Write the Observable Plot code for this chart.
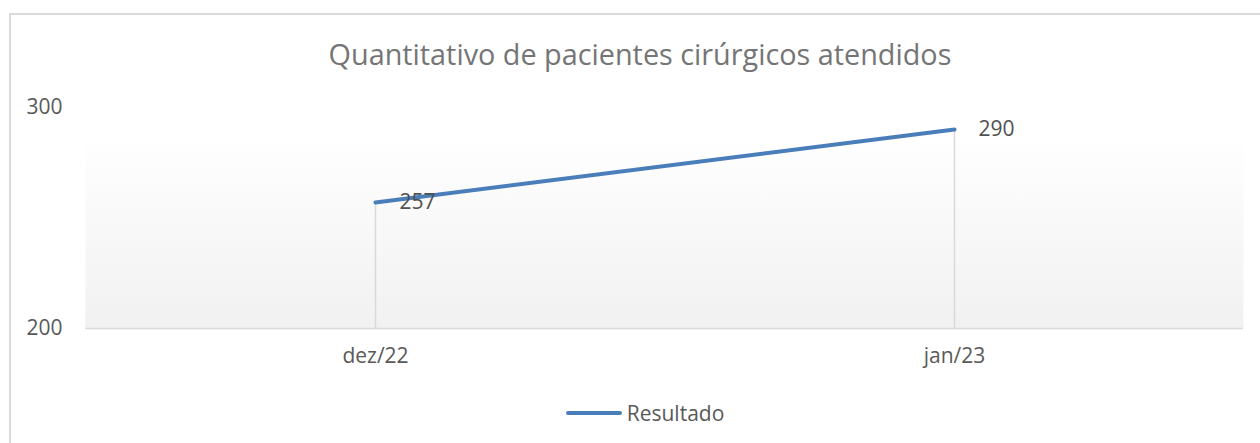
<!DOCTYPE html>
<html>
<head>
<meta charset="utf-8">
<script src="https://cdn.jsdelivr.net/npm/d3@7"></script>
<script src="https://cdn.jsdelivr.net/npm/@observablehq/plot@0.6"></script>
<style>
  html, body { margin: 0; padding: 0; background: #fff; }
  body { width: 1260px; height: 443px; position: relative; overflow: hidden; font-family: "Open Sans", sans-serif; }
  #border { position: absolute; left: 9px; top: 13px; width: 1400px; height: 600px; border-left: 2px solid #d9d9d9; border-top: 2px solid #d9d9d9; box-sizing: border-box; }
  #title { position: absolute; left: 0; top: 36px; width: 1260px; padding-left: 20px; box-sizing: border-box; text-align: center; font-size: 28.8px; line-height: 36px; color: #757575; }
  #chart { position: absolute; left: 0; top: 80px; }
  #legend { position: absolute; left: 0; top: 399px; width: 1260px; display: flex; justify-content: center; align-items: center; font-size: 21px; color: #595959; padding-left: 30px; box-sizing: border-box; }
  #legend .sw { display: inline-block; width: 56px; height: 4px; border-radius: 2px; background: #4a7ebb; margin-right: 5px; }
</style>
</head>
<body>
<div id="border"></div>
<div id="title">Quantitativo de pacientes cirúrgicos atendidos</div>
<div id="chart"></div>
<div id="legend"><span class="sw"></span><span>Resultado</span></div>
<script>
const months = ["dez/22", "jan/23"];
const resultado = [257, 290];
const yTicks = [200, 300];
const seriesName = "Resultado";

const data = months.map((m, i) => ({ month: m, value: resultado[i], base: yTicks[0] }));

const plot = Plot.plot({
  width: 1260,
  height: 310,
  marginLeft: 85,
  marginRight: 17,
  marginTop: 27,
  marginBottom: 62,
  style: { fontFamily: "Open Sans, sans-serif", fontSize: "21px", color: "#595959", background: "transparent" },
  x: { type: "point", domain: months, padding: 0.5 },
  y: { domain: [yTicks[0], yTicks[1]] },
  marks: [
    Plot.frame({ fill: "url(#bgGrad)", stroke: null }),
    Plot.ruleY([yTicks[0]], { stroke: "#d9d9d9", strokeWidth: 1.5 }),
    Plot.ruleX(data, { x: "month", y1: "base", y2: "value", stroke: "#d9d9d9", strokeWidth: 1.5 }),
    Plot.line(data, { x: "month", y: "value", stroke: "#4a7ebb", strokeWidth: 4, strokeLinecap: "round" }),
    Plot.text(data, { x: "month", y: "value", text: d => String(d.value), textAnchor: "start", dx: 24, fill: "#505050", fontSize: 21 }),
    Plot.axisY(yTicks, { tickSize: 0, tickPadding: 23, label: null, fill: "#595959", fontSize: 21 }),
    Plot.axisX({ tickSize: 0, tickPadding: 20, label: null, fill: "#595959", fontSize: 21 })
  ]
});

const svg = d3.select(plot);
const defs = svg.insert("defs", ":first-child");
const g = defs.append("linearGradient").attr("id", "bgGrad").attr("x1", 0).attr("y1", 0).attr("x2", 0).attr("y2", 1);
g.append("stop").attr("offset", "0%").attr("stop-color", "#ffffff");
g.append("stop").attr("offset", "12%").attr("stop-color", "#ffffff");
g.append("stop").attr("offset", "100%").attr("stop-color", "#f1f1f1");

document.getElementById("chart").appendChild(plot);
</script>
</body>
</html>
